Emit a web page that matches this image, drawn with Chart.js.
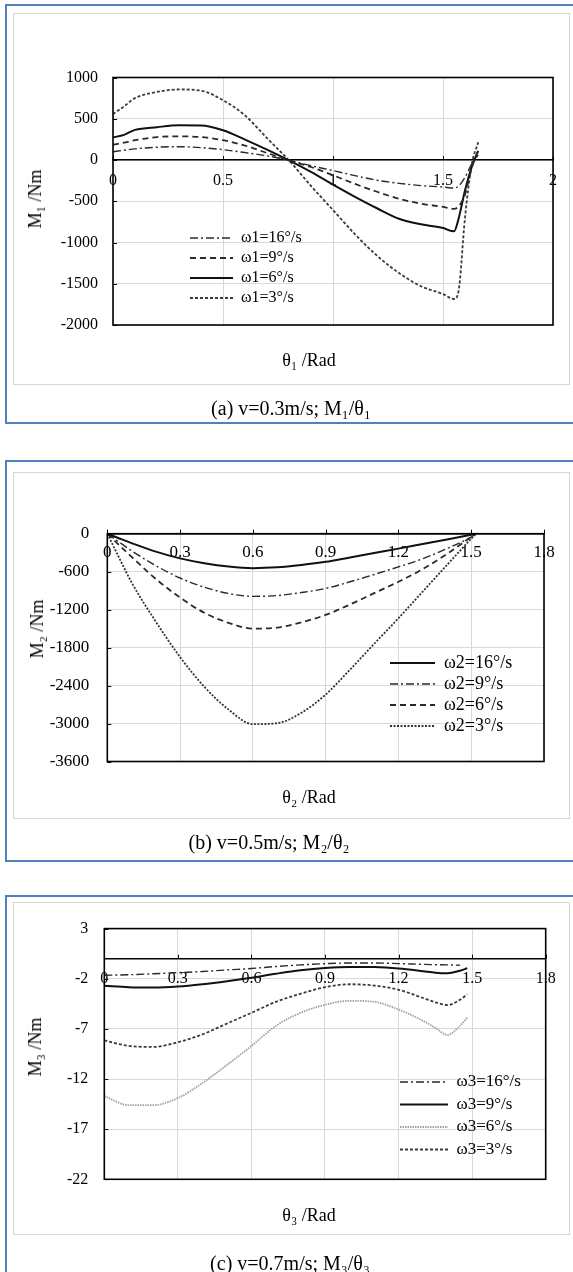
<!DOCTYPE html>
<html>
<head>
<meta charset="utf-8">
<script src="https://cdn.jsdelivr.net/npm/chart.js@4.4.1/dist/chart.umd.min.js"></script>
<style>
  body { margin: 0; background: #fff; width: 573px; height: 1272px; position: relative; overflow: hidden; font-family: "Liberation Serif", "Times New Roman", serif; }
  .frame { position: absolute; border: 2px solid #4f81bd; box-sizing: border-box; }
  .box { position: absolute; border: 1.5px solid #d6d6d6; box-sizing: border-box; }
  canvas { position: absolute; }
  .txt { position: absolute; white-space: nowrap; color: #000; line-height: 1; transform: translate(-50%, -50%); }
  .rot { transform: translate(-50%, -50%) rotate(-90deg); }
</style>
</head>
<body>

<div class="frame" style="left:5px; top:4px; width:600px; height:420px;"></div>
<div class="box" style="left:13px; top:13px; width:557px; height:372px;"></div>
<canvas id="c1" width="555" height="370" style="left:14px; top:14px;"></canvas>
<div class="txt rot" style="left:35px; top:199px; font-size:18px;">M₁ /Nm</div>
<div class="txt" style="left:309px; top:360px; font-size:18px;">θ₁ /Rad</div>
<div class="txt" style="left:291px; top:408px; font-size:20px;">(a) v=0.3m/s; M₁/θ₁</div>

<div class="frame" style="left:5px; top:460px; width:600px; height:402px;"></div>
<div class="box" style="left:13px; top:472px; width:557px; height:347px;"></div>
<canvas id="c2" width="555" height="345" style="left:14px; top:473px;"></canvas>
<div class="txt rot" style="left:37px; top:629px; font-size:18px;">M₂ /Nm</div>
<div class="txt" style="left:309px; top:797px; font-size:18px;">θ₂ /Rad</div>
<div class="txt" style="left:269px; top:842px; font-size:20px;">(b) v=0.5m/s; M₂/θ₂</div>

<div class="frame" style="left:5px; top:895px; width:600px; height:420px;"></div>
<div class="box" style="left:13px; top:902px; width:557px; height:333px;"></div>
<canvas id="c3" width="555" height="331" style="left:14px; top:903px;"></canvas>
<div class="txt rot" style="left:35px; top:1047px; font-size:18px;">M₃ /Nm</div>
<div class="txt" style="left:309px; top:1215px; font-size:18px;">θ₃ /Rad</div>
<div class="txt" style="left:290px; top:1263px; font-size:20px;">(c) v=0.7m/s; M₃/θ₃</div>

<script>
// (a) v=0.3m/s
const theta1 = [0, 0.05, 0.1, 0.2, 0.3, 0.4, 0.5, 0.6, 0.7, 0.8, 0.9, 1.0, 1.1, 1.2, 1.3, 1.4, 1.5, 1.55, 1.57, 1.6, 1.63, 1.66];
const m1w16 = [100, 118, 135, 155, 161, 150, 125, 90, 50, -3, -70, -128, -190, -245, -283, -310, -328, -340, -318, -210, -50, 60];
const m1w9 = [185, 210, 240, 278, 286, 278, 240, 175, 85, -5, -85, -185, -290, -385, -470, -530, -568, -593, -565, -420, -100, 120];
const m1w6 = [274, 305, 365, 398, 420, 418, 360, 247, 125, -5, -145, -298, -446, -585, -712, -780, -825, -865, -720, -371, -89, 110];
const m1w3 = [556, 650, 750, 825, 855, 840, 725, 540, 265, -5, -314, -607, -900, -1160, -1370, -1530, -1625, -1685, -1600, -700, -60, 214];
const xTicks1 = [0, 0.5, 1, 1.5, 2];
const yTicks1 = [1000, 500, 0, -500, -1000, -1500, -2000];
const labels1 = ["ω1=16°/s", "ω1=9°/s", "ω1=6°/s", "ω1=3°/s"];

// (b) v=0.5m/s
const theta2 = [0, 0.05, 0.1, 0.2, 0.3, 0.4, 0.5, 0.6, 0.7, 0.8, 0.9, 1.0, 1.1, 1.2, 1.3, 1.4, 1.5, 1.52];
const m2w16 = [0, -75, -148, -283, -390, -467, -520, -545, -532, -495, -445, -375, -305, -236, -163, -90, -16, 0];
const m2w9 = [0, -135, -270, -505, -700, -845, -945, -990, -978, -930, -865, -760, -645, -524, -395, -235, -52, 0];
const m2w6 = [0, -185, -365, -715, -1010, -1250, -1410, -1500, -1485, -1400, -1284, -1120, -940, -760, -560, -320, -52, 0];
const m2w3 = [0, -390, -770, -1390, -1950, -2420, -2780, -3010, -2995, -2830, -2542, -2150, -1740, -1336, -915, -495, -79, 0];
const xTicks2 = [0, 0.3, 0.6, 0.9, 1.2, 1.5, 1.8];
const yTicks2 = [0, -600, -1200, -1800, -2400, -3000, -3600];
const labels2 = ["ω2=16°/s", "ω2=9°/s", "ω2=6°/s", "ω2=3°/s"];

// (c) v=0.7m/s
const theta3 = [0, 0.1, 0.2, 0.3, 0.4, 0.5, 0.6, 0.7, 0.8, 0.9, 1.0, 1.1, 1.2, 1.3, 1.35, 1.4, 1.45, 1.48];
const m3w16 = [-1.65, -1.6, -1.5, -1.4, -1.28, -1.12, -0.98, -0.78, -0.62, -0.5, -0.43, -0.43, -0.49, -0.57, -0.6, -0.62, -0.65];
const m3w9 = [-2.7, -2.85, -2.88, -2.78, -2.55, -2.25, -1.9, -1.5, -1.15, -0.92, -0.82, -0.84, -0.98, -1.25, -1.4, -1.45, -1.2, -0.95];
const m3w6 = [-13.7, -14.6, -14.6, -13.9, -12.4, -10.6, -8.7, -6.7, -5.4, -4.6, -4.2, -4.3, -5.07, -6.2, -6.9, -7.6, -6.7, -5.9];
const m3w3 = [-8.15, -8.7, -8.8, -8.33, -7.55, -6.47, -5.4, -4.3, -3.5, -2.84, -2.55, -2.68, -3.1, -3.92, -4.35, -4.62, -4.1, -3.55];
const xTicks3 = [0, 0.3, 0.6, 0.9, 1.2, 1.5, 1.8];
const yTicks3 = [3, -2, -7, -12, -17, -22];
const labels3 = ["ω3=16°/s", "ω3=9°/s", "ω3=6°/s", "ω3=3°/s"];

Chart.defaults.font.family = "'Liberation Serif', 'Times New Roman', serif";
Chart.defaults.color = "#000";

// line looks
const SOLID = { borderColor: "#111", borderWidth: 2, borderDash: [] };
const DASHED = { borderColor: "#2a2a2a", borderWidth: 1.8, borderDash: [6, 4] };
const DASHDOT = { borderColor: "#2a2a2a", borderWidth: 1.4, borderDash: [8, 3, 2, 3] };
const SHORTDASH = { borderColor: "#3a3a3a", borderWidth: 1.8, borderDash: [3, 2] };
const DOTTED = { borderColor: "#333", borderWidth: 1.8, borderDash: [2, 1.5] };
const DOTTED_LIGHT = { borderColor: "#a0a0a0", borderWidth: 1.8, borderDash: [1.5, 1] };

function pts(xs, ys) {
  return ys.map((y, i) => ({ x: xs[i], y: y }));
}

function series(label, xs, ys, look) {
  return Object.assign({
    label: label,
    data: pts(xs, ys),
    pointRadius: 0,
    fill: false,
    cubicInterpolationMode: "monotone"
  }, look);
}

// legend samples take the dataset's own dash and width
function legendItems(chart) {
  const items = Chart.defaults.plugins.legend.labels.generateLabels(chart);
  items.forEach(it => {
    const ds = chart.data.datasets[it.datasetIndex];
    it.lineDash = ds.borderDash;
    it.lineWidth = ds.borderWidth;
    it.strokeStyle = ds.borderColor;
    it.pointStyle = "line";
  });
  return items;
}

// plot frame, inner ticks and legend placement
const framePlugin = {
  id: "frame",
  afterLayout(chart, args, opts) {
    const lg = chart.legend;
    if (!lg || !opts.legendAt) return;
    const pad = chart.options.plugins.legend.labels.padding;
    lg.left = opts.legendAt.x - pad;
    lg.top = opts.legendAt.y - pad;
    lg.width = 220;
    lg.height = 200;
    lg.right = lg.left + 220;
    lg.bottom = lg.top + 200;
  },
  afterDatasetsDraw(chart) {
    const { ctx, chartArea: a, scales } = chart;
    ctx.save();
    ctx.strokeStyle = "#000";
    ctx.lineWidth = 1;
    const y0 = scales.y.getPixelForValue(0);
    scales.y.ticks.forEach(t => {
      const py = Math.round(scales.y.getPixelForValue(t.value)) + 0.5;
      ctx.beginPath(); ctx.moveTo(a.left, py); ctx.lineTo(a.left + 4, py); ctx.stroke();
    });
    scales.x.ticks.forEach(t => {
      const px = Math.round(scales.x.getPixelForValue(t.value)) + 0.5;
      ctx.beginPath(); ctx.moveTo(px, y0); ctx.lineTo(px, y0 - 4); ctx.stroke();
    });
    ctx.lineWidth = 1.6;
    ctx.strokeRect(a.left, a.top, a.right - a.left, a.bottom - a.top);
    ctx.restore();
  }
};

function makeChart(id, cfg) {
  const fs = cfg.fontSize;
  new Chart(document.getElementById(id), {
    type: "line",
    data: { datasets: cfg.datasets },
    options: {
      responsive: false,
      animation: false,
      devicePixelRatio: 1,
      layout: { padding: cfg.padding },
      scales: {
        x: {
          type: "linear",
          min: cfg.xTicks[0],
          max: cfg.xTicks[cfg.xTicks.length - 1],
          position: { y: 0 },
          afterBuildTicks: s => { s.ticks = cfg.xTicks.map(v => ({ value: v })); },
          grid: { color: "#d9d9d9", lineWidth: 1, drawTicks: false },
          border: { display: true, color: "#000", width: 1.5 },
          ticks: { padding: cfg.xPad, autoSkip: false, maxRotation: 0, color: "#000",
                   font: { size: fs }, callback: v => String(v) }
        },
        y: {
          type: "linear",
          min: Math.min(...cfg.yTicks),
          max: Math.max(...cfg.yTicks),
          afterBuildTicks: s => { s.ticks = cfg.yTicks.map(v => ({ value: v })); },
          afterFit: s => { s.width = 70; },
          grid: { color: "#d9d9d9", lineWidth: 1, drawTicks: false },
          border: { display: false },
          ticks: { padding: cfg.yPad, autoSkip: false, color: "#000",
                   font: { size: fs }, callback: v => String(v) }
        }
      },
      plugins: {
        legend: {
          position: "chartArea",
          align: "start",
          labels: {
            usePointStyle: true,
            pointStyle: "line",
            pointStyleWidth: cfg.legendSample,
            padding: cfg.legendPad,
            color: "#000",
            font: { size: cfg.legendFont },
            generateLabels: legendItems
          }
        },
        tooltip: { enabled: false },
        frame: { legendAt: cfg.legendAt }
      }
    },
    plugins: [framePlugin]
  });
}

makeChart("c1", {
  fontSize: 16,
  padding: { left: 29, top: 63.5, right: 16, bottom: 59 },
  xTicks: xTicks1, yTicks: yTicks1, xPad: 11, yPad: 15,
  legendFont: 16, legendPad: 4, legendSample: 43, legendAt: { x: 176, y: 216 },
  datasets: [
    series(labels1[0], theta1, m1w16, DASHDOT),
    series(labels1[1], theta1, m1w9, DASHED),
    series(labels1[2], theta1, m1w6, SOLID),
    series(labels1[3], theta1, m1w3, SHORTDASH)
  ]
});

makeChart("c2", {
  fontSize: 17,
  padding: { left: 23.3, top: 60.7, right: 25, bottom: 56.5 },
  xTicks: xTicks2, yTicks: yTicks2, xPad: 9, yPad: 18,
  legendFont: 18, legendPad: 3, legendSample: 45, legendAt: { x: 376, y: 181 },
  datasets: [
    series(labels2[0], theta2, m2w16, SOLID),
    series(labels2[1], theta2, m2w9, DASHDOT),
    series(labels2[2], theta2, m2w6, DASHED),
    series(labels2[3], theta2, m2w3, DOTTED)
  ]
});

makeChart("c3", {
  fontSize: 16,
  padding: { left: 20.3, top: 21.3, right: 23.3, bottom: 54.7 },
  xTicks: xTicks3, yTicks: yTicks3, xPad: 11, yPad: 16,
  legendFont: 17, legendPad: 5.5, legendSample: 48, legendAt: { x: 386, y: 170.5 },
  datasets: [
    series(labels3[0], theta3, m3w16, DASHDOT),
    series(labels3[1], theta3, m3w9, SOLID),
    series(labels3[2], theta3, m3w6, DOTTED_LIGHT),
    series(labels3[3], theta3, m3w3, SHORTDASH)
  ]
});
</script>
</body>
</html>
